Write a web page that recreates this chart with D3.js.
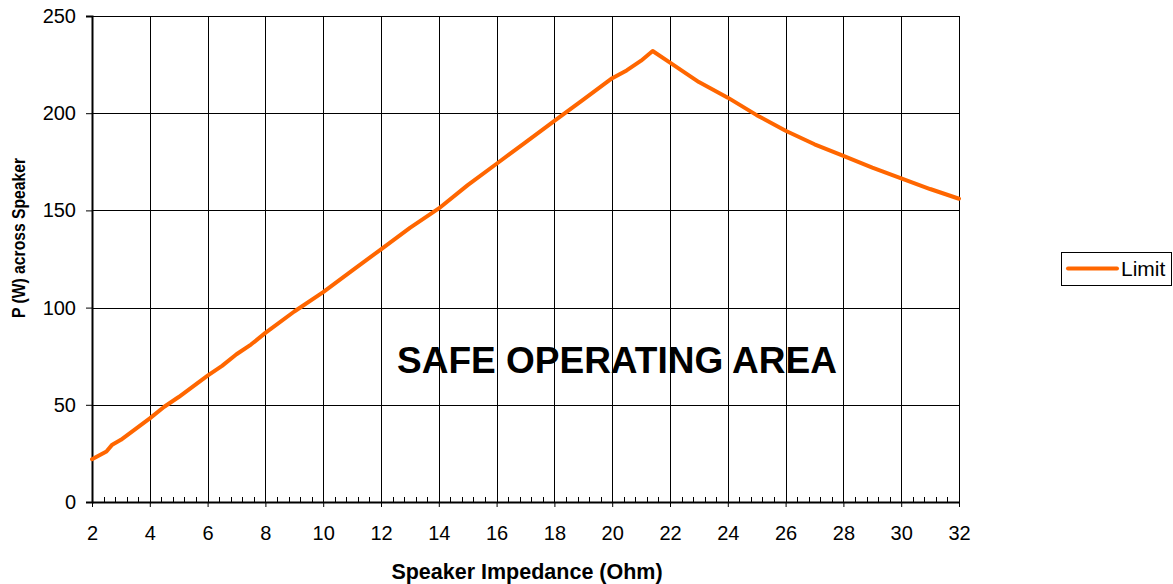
<!DOCTYPE html>
<html><head><meta charset="utf-8">
<script src="https://cdn.jsdelivr.net/npm/d3@7/dist/d3.min.js"></script>
<style>
body{margin:0;background:#fff;}
text{font-family:"Liberation Sans",Arial,sans-serif;}
</style></head>
<body><svg id="c" width="1173" height="584"></svg>
<script>
const impedance = [2, 2.5, 2.7, 3, 3.5, 4, 4.5, 5, 5.5, 6, 6.5, 7, 7.5, 8, 9, 10, 11, 12, 13, 14, 15, 16, 17, 18, 19, 20, 20.5, 21, 21.4, 22, 23, 24, 25, 26, 27, 28, 29, 30, 31, 32];
const power = [22, 26, 29.5, 32, 37.5, 43, 49, 54, 59.5, 65, 70, 76, 81, 87, 98, 108, 119, 130, 141, 151, 163, 174, 185, 196, 207, 218, 222, 227, 232, 226, 216, 208, 199, 191, 184, 178, 172, 166.5, 161, 156];
const seriesName = "Limit";
const xTicks = [2,4,6,8,10,12,14,16,18,20,22,24,26,28,30,32];
const yTicks = [0,50,100,150,200,250];

const svg = d3.select("#c");
const L=92, R=959, T=16, B=502;
const x = d3.scaleLinear().domain([2,32]).range([L,R]);
const y = d3.scaleLinear().domain([0,250]).range([B,T]);

// gridlines
const g = svg.append("g").attr("shape-rendering","crispEdges");
g.selectAll(".vx").data(xTicks).join("line")
  .attr("x1",d=>Math.round(x(d))+0.5).attr("x2",d=>Math.round(x(d))+0.5)
  .attr("y1",T).attr("y2",B).attr("stroke","#000").attr("stroke-width",1);
g.selectAll(".hy").data(yTicks).join("line")
  .attr("x1",L).attr("x2",R).attr("y1",d=>Math.round(y(d))+0.5).attr("y2",d=>Math.round(y(d))+0.5)
  .attr("stroke","#000").attr("stroke-width",1);

// plot border
g.append("rect").attr("x",L+0.5).attr("y",T+0.5).attr("width",R-L).attr("height",B-T)
  .attr("fill","none").attr("stroke","#000").attr("stroke-width",1);

// x axis
const xAxis = svg.append("g").attr("transform",`translate(0,${B})`)
  .call(d3.axisBottom(x).tickValues(xTicks).tickSize(5).tickPadding(19).tickFormat(d3.format("d")));
xAxis.select(".domain").attr("stroke-width",2).attr("d",`M${L},0.5H${R}`);
xAxis.selectAll("text").attr("font-size",20).attr("fill","#000").attr("font-family","Liberation Sans, Arial, sans-serif");
// minor ticks (inside)
const minor = d3.range(2,32.01,0.4).filter(v=>Math.abs(v/2-Math.round(v/2))>0.01);
svg.append("g").attr("shape-rendering","crispEdges").selectAll("line").data(minor).join("line")
  .attr("x1",d=>Math.round(x(d))+0.5).attr("x2",d=>Math.round(x(d))+0.5)
  .attr("y1",B-5).attr("y2",B).attr("stroke","#000");

// y axis
const yAxis = svg.append("g").attr("transform",`translate(${L},0)`)
  .call(d3.axisLeft(y).tickValues(yTicks).tickSize(6).tickPadding(10));
yAxis.select(".domain").attr("stroke-width",2);
yAxis.selectAll("text").attr("font-size",20).attr("fill","#000").attr("font-family","Liberation Sans, Arial, sans-serif");

// line
const line = d3.line().x((d,i)=>x(impedance[i])).y(d=>y(d));
svg.append("path").datum(power).attr("d",line).attr("fill","none")
  .attr("stroke","#FF6600").attr("stroke-width",4).attr("stroke-linejoin","round").attr("stroke-linecap","round");

// annotation
svg.append("text").attr("x",617).attr("y",373).attr("text-anchor","middle")
  .attr("font-size",37).attr("font-weight","bold").attr("fill","#000").text("SAFE OPERATING AREA");

// axis titles
svg.append("text").attr("x",527).attr("y",579).attr("text-anchor","middle")
  .attr("font-size",21.5).attr("font-weight","bold").text("Speaker Impedance (Ohm)");
svg.append("text").attr("transform","translate(25,238) rotate(-90)").attr("text-anchor","middle")
  .attr("font-size",18).attr("font-weight","bold")
  .attr("textLength",160).attr("lengthAdjust","spacingAndGlyphs").text("P (W) across Speaker");

// legend
const lg = svg.append("g");
lg.append("rect").attr("x",1061.5).attr("y",252.5).attr("width",110).attr("height",33)
  .attr("fill","#fff").attr("stroke","#000").attr("stroke-width",1);
lg.append("line").attr("x1",1068).attr("x2",1117).attr("y1",268.5).attr("y2",268.5)
  .attr("stroke","#FF6600").attr("stroke-width",4).attr("stroke-linecap","round");
lg.append("text").attr("x",1121).attr("y",276).attr("font-size",21).text(seriesName);
</script></body></html>
